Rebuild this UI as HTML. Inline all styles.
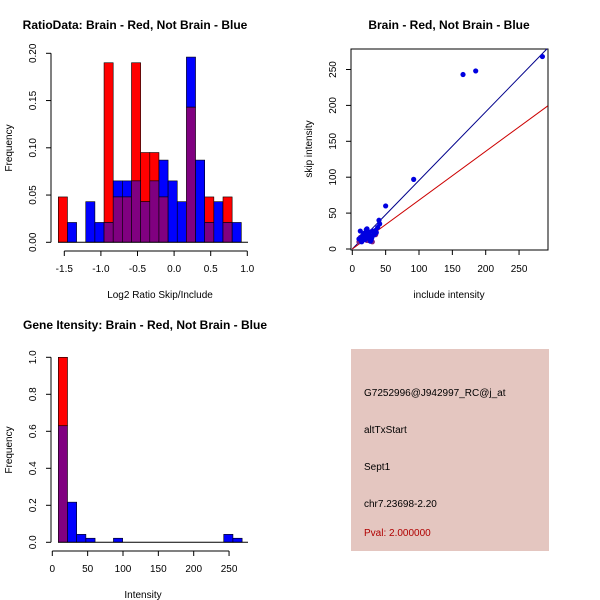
<!DOCTYPE html>
<html><head><meta charset="utf-8"><style>
body{margin:0;background:#fff}
svg{display:block;font-family:"Liberation Sans",sans-serif}
</style></head><body>
<svg id="s" width="600" height="600" viewBox="0 0 600 600">
<text x="135" y="29" font-size="12" font-weight="bold" text-anchor="middle">RatioData: Brain - Red, Not Brain - Blue</text>
<text x="160" y="298" font-size="10" text-anchor="middle">Log2 Ratio Skip/Include</text>
<text transform="translate(12,148) rotate(-90)" font-size="10" text-anchor="middle">Frequency</text>
<text x="449" y="29" font-size="12" font-weight="bold" text-anchor="middle">Brain - Red, Not Brain - Blue</text>
<text x="449" y="298" font-size="10" text-anchor="middle">include intensity</text>
<text transform="translate(312,149) rotate(-90)" font-size="10" text-anchor="middle">skip intensity</text>
<text x="145" y="329" font-size="12" font-weight="bold" text-anchor="middle">Gene Itensity: Brain - Red, Not Brain - Blue</text>
<text x="143" y="598" font-size="10" text-anchor="middle">Intensity</text>
<text transform="translate(12,450) rotate(-90)" font-size="10" text-anchor="middle">Frequency</text>
<rect x="351" y="349" width="198" height="202" fill="#e4c6c0"/>
<text x="364" y="396" font-size="10">G7252996@J942997_RC@j_at</text>
<text x="364" y="433" font-size="10">altTxStart</text>
<text x="364" y="470" font-size="10">Sept1</text>
<text x="364" y="507" font-size="10">chr7.23698-2.20</text>
<text x="364" y="536" font-size="10" fill="#b00000">Pval: 2.000000</text>
</svg>
<script>
const ratioRed=[.048,0,0,0,0,.19,.048,.048,.19,.095,.095,.048,0,0,.143,0,.048,0,.048,0];
const ratioBlue=[0,.021,0,.043,.021,.021,.065,.065,.065,.043,.065,.087,.065,.043,.196,.087,.021,.043,.021,.021];
const ratioXTicks=[-1.5,-1.0,-0.5,0.0,0.5,1.0];
const ratioYTicks=[0,0.05,0.10,0.15,0.20];
const intRed=[1.0];
const intBlue=[.63,.217,.043,.022,0,0,.022,0,0,0,0,0,0,0,0,0,0,0,.043,.022];
const intXTicks=[0,50,100,150,200,250];
const intYTicks=[0,0.2,0.4,0.6,0.8,1.0];
const scX=[285,166,185,92,50,40,41,38,30,25,22,20,18,15,12,28,33,35,24,19,16,14,26,31,36,21,17,13,27,29,23,10];
const scY=[268,243,248,97,60,40,35,30,25,20,28,15,22,18,25,12,20,26,24,13,17,10,14,19,23,27,21,16,11,15,18,14];
const scRX=[10,15,20,25,30,35,18,28,12,22,33];
const scRY=[10,12,15,12,10,20,18,14,16,12,22];
const scTicks=[0,50,100,150,200,250];
const NS="http://www.w3.org/2000/svg",S=document.getElementById('s');
function el(t,a,p){const e=document.createElementNS(NS,t);for(const k in a)e.setAttribute(k,a[k]);(p||S).appendChild(e);return e;}
function txt(x,y,s,a,rot){const e=el('text',{x:x,y:y,'font-size':10,'text-anchor':'middle'});if(rot)e.setAttribute('transform','rotate(-90 '+x+' '+y+')');e.textContent=s;return e;}
// ratio hist
const rx=v=>64.3+(v+1.5)*73.2, ry=v=>242.3-v*945;
const rb0=-1.582,rbw=0.125;
ratioRed.forEach((r,i)=>{const b=ratioBlue[i],x0=rx(rb0+i*rbw),w=rx(rb0+(i+1)*rbw)-x0,m=Math.min(r,b);
 if(r>m){const e=el('rect',{x:x0,y:ry(r),width:w,height:ry(m)-ry(r),fill:'#ff0000',stroke:'#000','stroke-width':0.6});}
 if(b>m){const e=el('rect',{x:x0,y:ry(b),width:w,height:ry(m)-ry(b),fill:'#0000ff',stroke:'#000','stroke-width':0.6});}
 if(m>0){const e=el('rect',{x:x0,y:ry(m),width:w,height:ry(0)-ry(m),fill:'#800080',stroke:'#000','stroke-width':0.6});}
});
el('line',{x1:58,x2:248,y1:242.3,y2:242.3,stroke:'#000'});
el('line',{x1:rx(-1.5),x2:rx(1),y1:251,y2:251,stroke:'#000'});
ratioXTicks.forEach(t=>{el('line',{x1:rx(t),x2:rx(t),y1:251,y2:256,stroke:'#000'});const e=txt(rx(t),272,t.toFixed(1));});
el('line',{x1:51,x2:51,y1:ry(0),y2:ry(0.2),stroke:'#000'});
ratioYTicks.forEach(t=>{el('line',{x1:46,x2:51,y1:ry(t),y2:ry(t),stroke:'#000'});const e=txt(36,ry(t),t===0?'0.00':t.toFixed(2),0,1);});
// scatter
const sx=v=>352.3+v*0.667, sy=v=>249-v*0.718;
el('rect',{x:351,y:49,width:197,height:201,fill:'none',stroke:'#000'});
el('line',{x1:sx(0),y1:sy(0),x2:sx(292),y2:sy(292*0.955),stroke:'#00008b'});
el('line',{x1:sx(0),y1:sy(0),x2:sx(293),y2:sy(293*0.68),stroke:'#cc0000'});
scRX.forEach((v,i)=>{const e=el('circle',{cx:sx(v),cy:sy(scRY[i]),r:2.6,fill:'#802080'});});
scX.forEach((v,i)=>{const e=el('circle',{cx:sx(v),cy:sy(scY[i]),r:2.6,fill:'#0000e0'});});
scTicks.forEach(t=>{el('line',{x1:sx(t),x2:sx(t),y1:250,y2:255,stroke:'#000'});let e=txt(sx(t),272,String(t));
 el('line',{x1:346,x2:351,y1:sy(t),y2:sy(t),stroke:'#000'});e=txt(336,sy(t),String(t),0,1);});
// intensity hist
const ix=v=>52.3+v*0.707, iy=v=>542.3-v*185;
const ib0=8.5,ibw=13;
intBlue.forEach((b,i)=>{const r=intRed[i]||0,x0=ix(ib0+i*ibw),w=ix(ib0+(i+1)*ibw)-x0,m=Math.min(r,b);
 if(r>m){const e=el('rect',{x:x0,y:iy(r),width:w,height:iy(m)-iy(r),fill:'#ff0000',stroke:'#000','stroke-width':0.6});}
 if(b>m){const e=el('rect',{x:x0,y:iy(b),width:w,height:iy(m)-iy(b),fill:'#0000ff',stroke:'#000','stroke-width':0.6});}
 if(m>0){const e=el('rect',{x:x0,y:iy(m),width:w,height:iy(0)-iy(m),fill:'#800080',stroke:'#000','stroke-width':0.6});}
});
el('line',{x1:58,x2:248,y1:542.3,y2:542.3,stroke:'#000'});
el('line',{x1:ix(0),x2:ix(250),y1:551,y2:551,stroke:'#000'});
intXTicks.forEach(t=>{el('line',{x1:ix(t),x2:ix(t),y1:551,y2:556,stroke:'#000'});const e=txt(ix(t),572,String(t));});
el('line',{x1:51,x2:51,y1:iy(0),y2:iy(1),stroke:'#000'});
intYTicks.forEach(t=>{el('line',{x1:46,x2:51,y1:iy(t),y2:iy(t),stroke:'#000'});const e=txt(36,iy(t),t.toFixed(1),0,1);});
</script>
</body></html>
